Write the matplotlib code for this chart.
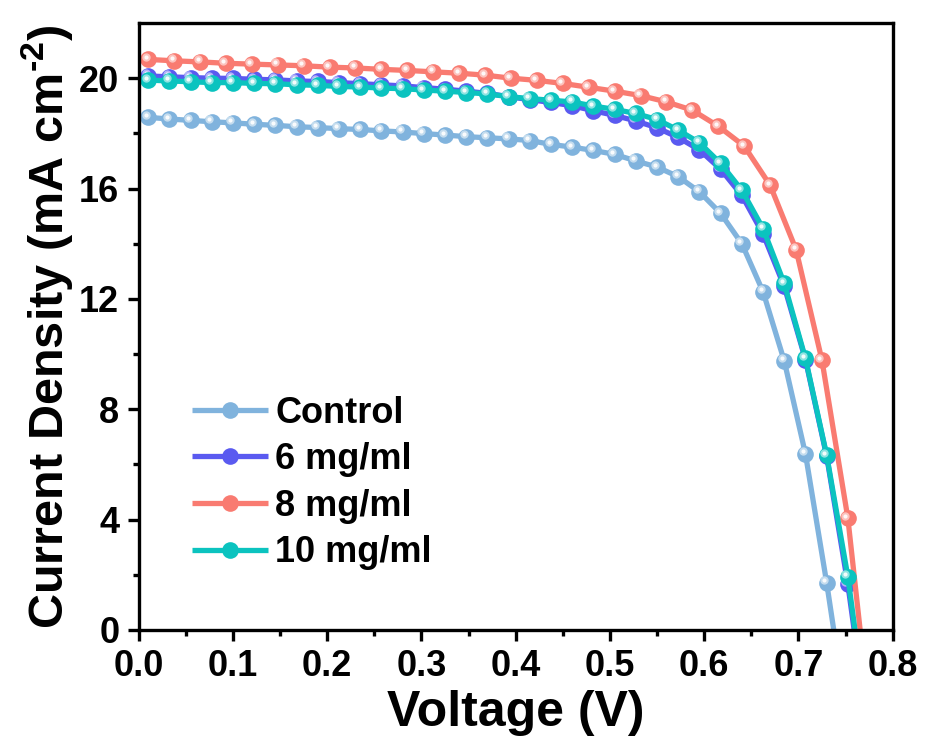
import numpy as np
import matplotlib
matplotlib.use('Agg')
import matplotlib.pyplot as plt
from matplotlib import transforms
from matplotlib.colors import to_rgb

# Fonts.
plt.rcParams['font.family'] = ['Liberation Sans', 'DejaVu Sans']
plt.rcParams['font.weight'] = 'bold'
plt.rcParams['mathtext.fontset'] = 'custom'
plt.rcParams['mathtext.rm'] = 'Liberation Sans:bold'
plt.rcParams['mathtext.bf'] = 'Liberation Sans:bold'

# Data (last point of each series lies below 0, clipped).
v_control = 0.01 + 0.0225 * np.arange(34)
j_control = [18.58, 18.52, 18.47, 18.42, 18.38, 18.33, 18.29, 18.24, 18.21, 18.17,
             18.14, 18.09, 18.05, 17.99, 17.94, 17.88, 17.84, 17.80, 17.74, 17.60,
             17.50, 17.38, 17.24, 17.00, 16.78, 16.43, 15.88, 15.10, 14.00, 12.26,
             9.75, 6.38, 1.71, -3.4]

v_6 = 0.01 + 0.0225 * np.arange(35)
j_6 = [20.08, 20.05, 20.02, 20.00, 19.99, 19.96, 19.94, 19.90, 19.88, 19.84,
       19.80, 19.76, 19.72, 19.66, 19.60, 19.53, 19.45, 19.33, 19.22, 19.12,
       19.00, 18.82, 18.65, 18.45, 18.20, 17.85, 17.40, 16.70, 15.75, 14.35,
       12.45, 9.80, 6.30, 1.65, -3.9]

v_8 = 0.01 + 0.0275 * np.arange(29)
j_8 = [20.68, 20.63, 20.59, 20.54, 20.51, 20.48, 20.45, 20.40, 20.37, 20.32,
       20.28, 20.23, 20.18, 20.11, 20.00, 19.92, 19.81, 19.67, 19.53, 19.37,
       19.14, 18.84, 18.26, 17.54, 16.12, 13.79, 9.78, 4.05, -4.5]

v_10 = 0.01 + 0.0225 * np.arange(35)
j_10 = [19.93, 19.90, 19.87, 19.84, 19.84, 19.81, 19.80, 19.76, 19.74, 19.70,
        19.68, 19.64, 19.62, 19.57, 19.53, 19.48, 19.43, 19.33, 19.26, 19.20,
        19.14, 18.99, 18.87, 18.72, 18.50, 18.12, 17.66, 16.91, 15.94, 14.55,
        12.56, 9.84, 6.34, 1.93, -3.8]

labels = ['Control', '6 mg/ml', '8 mg/ml', '10 mg/ml']
colors = ['#80B3DD', '#5A5AF0', '#F97B71', '#0BC3BF']

FIGSIZE = (9.25, 7.42)
fig = plt.figure(figsize=FIGSIZE, dpi=100)
ax = fig.add_axes([0.150, 0.151, 0.815, 0.818])

# Shiny sphere look: a light highlight dot nudged up-left on every marker.
hl_tr = transforms.offset_copy(ax.transData, fig=fig, x=-2.5, y=2.5, units='dots')

series = [(v_control, j_control), (v_6, j_6), (v_8, j_8), (v_10, j_10)]
handles = []
for (v, j), lab, col in zip(series, labels, colors):
    light = tuple(0.4 * c + 0.6 for c in to_rgb(col))
    line, = ax.plot(v, j, '-o', color=col, lw=3.8, ms=12, mec=col, mew=0,
                    label=lab, solid_capstyle='butt')
    ax.plot(v, j, 'o', color=light, ms=6, mew=0, alpha=0.9, transform=hl_tr)
    ax.plot(v, j, 'o', color='white', ms=3, mew=0, alpha=0.9, transform=hl_tr)
    handles.append(line)

ax.set_xlim(0, 0.8)
ax.set_ylim(0, 22)
ax.set_xticks(np.arange(0, 0.81, 0.1))
ax.set_xticks(np.arange(0.05, 0.8, 0.1), minor=True)
ax.set_yticks(np.arange(0, 21, 4))
ax.set_yticks(np.arange(2, 22, 4), minor=True)
ax.set_xticklabels(['%.1f' % t for t in np.arange(0, 0.81, 0.1)])

for s in ax.spines.values():
    s.set_linewidth(2.4)
ax.tick_params(which='major', direction='out', length=8, width=2.4,
               labelsize=26, pad=6)
ax.tick_params(which='minor', direction='out', length=4.5, width=2.4)
ax.tick_params(top=False, right=False, which='both')

ax.set_xlabel('Voltage (V)', fontsize=36, fontweight='bold', labelpad=4)
ax.set_ylabel(r'Current Density (mA cm$^{\text{-2}}$)', fontsize=35,
              fontweight='bold', labelpad=2)

leg = ax.legend(handles=handles, loc='upper left', bbox_to_anchor=(0.052, 0.41),
                frameon=False, fontsize=26, handlelength=2.1, handletextpad=0.2,
                labelspacing=0.32, borderaxespad=0, numpoints=1)
for t in leg.get_texts():
    t.set_fontweight('bold')

fig.savefig('out.png', dpi=100)
